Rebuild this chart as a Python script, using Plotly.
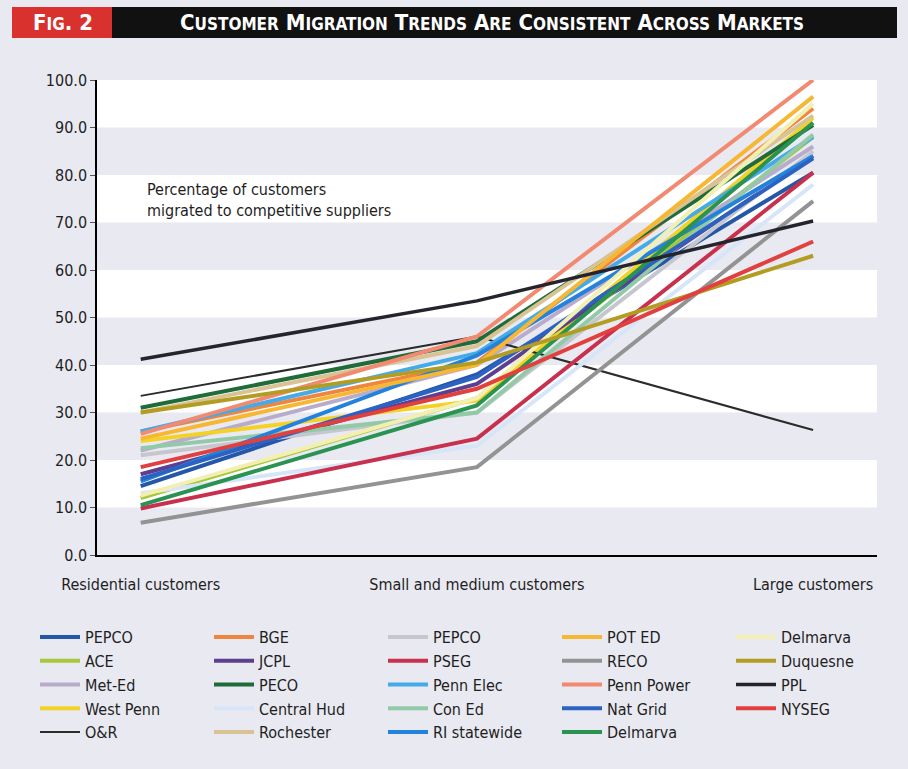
import plotly.graph_objects as go

W, H = 908, 769
categories = ["Residential customers", "Small and medium customers", "Large customers"]

names = ["PEPCO", "ACE", "Met-Ed", "West Penn", "O&R",
         "BGE", "JCPL", "PECO", "Central Hud", "Rochester",
         "PEPCO", "PSEG", "Penn Elec", "Con Ed", "RI statewide",
         "POT ED", "RECO", "Penn Power", "Nat Grid", "Delmarva",
         "Delmarva", "Duquesne", "PPL", "NYSEG"]

values = [
    [14.5, 38.0, 80.5],   # PEPCO
    [12.0, 33.0, 88.0],   # ACE
    [22.0, 40.0, 86.0],   # Met-Ed
    [24.0, 32.5, 92.0],   # West Penn
    [33.5, 46.0, 26.3],   # O&R
    [26.0, 40.5, 94.0],   # BGE
    [17.0, 36.0, 84.0],   # JCPL
    [31.0, 45.0, 90.5],   # PECO
    [13.0, 23.0, 78.0],   # Central Hud
    [30.0, 44.0, 92.5],   # Rochester
    [21.0, 30.0, 85.0],   # PEPCO
    [9.8, 24.5, 80.5],    # PSEG
    [26.0, 42.5, 88.0],   # Penn Elec
    [22.5, 30.0, 88.5],   # Con Ed
    [15.5, 42.0, 84.0],   # RI statewide
    [24.5, 40.0, 96.5],   # POT ED
    [6.8, 18.5, 74.5],    # RECO
    [25.5, 46.0, 100.0],  # Penn Power
    [16.0, 37.5, 83.5],   # Nat Grid
    [10.5, 31.5, 91.0],   # Delmarva
    [12.5, 33.0, 95.0],   # Delmarva
    [30.0, 40.5, 63.0],   # Duquesne
    [41.2, 53.5, 70.3],   # PPL
    [18.5, 35.0, 66.0],   # NYSEG
]

colors = ["#2457a8", "#a8c83c", "#b8abcc", "#f4d225", "#2b2b2b",
          "#f0853e", "#5c3f8e", "#1f6b3a", "#d6e6f8", "#d9c394",
          "#c6c6ce", "#c8304e", "#45aae8", "#92caa8", "#2382dc",
          "#f7b733", "#939393", "#f28a72", "#2c62c2", "#2a9352",
          "#f3efb2", "#b39c22", "#24242e", "#e2403e"]

widths = [4, 4, 4, 4, 2, 4, 4, 4, 4, 4, 4, 4, 4, 4, 4, 4, 4, 4, 4, 4, 4, 4, 3.5, 4]

yticks = [0, 10, 20, 30, 40, 50, 60, 70, 80, 90, 100]

BG = "#e9e9f1"
FONT = "DejaVu Sans Condensed, Liberation Sans Narrow, Arial Narrow, sans-serif"

L, R, T, B = 97, 31, 80, 214
pw, ph = W - L - R, H - T - B


def px_x(x):
    return (x - L) / pw


def px_y(y):
    return (H - B - y) / ph


fig = go.Figure()

# legend arranged column-major in 5 columns of 5 rows -> legendrank row-major
nrows = 5
for i, (n, v, c, w) in enumerate(zip(names, values, colors, widths)):
    col, row = divmod(i, nrows)
    fig.add_trace(go.Scatter(
        x=categories, y=v, mode="lines", name=n,
        line=dict(color=c, width=w),
        legendrank=row * 10 + col + 1,
        hoverinfo="skip"))

shapes = []
# white bands
for lo in yticks[1:-1:2]:
    shapes.append(dict(type="rect", xref="paper", yref="y", x0=0, x1=1,
                       y0=lo, y1=lo + 10, fillcolor="white", line_width=0,
                       layer="below"))
# title bar
shapes.append(dict(type="rect", xref="paper", yref="paper",
                   x0=px_x(112), x1=px_x(897), y0=px_y(38), y1=px_y(7),
                   fillcolor="#111111", line_width=0))
shapes.append(dict(type="rect", xref="paper", yref="paper",
                   x0=px_x(12), x1=px_x(112), y0=px_y(38), y1=px_y(7),
                   fillcolor="#d9322e", line_width=0))


def smallcaps(text, small=17):
    out = []
    for word in text.split(" "):
        out.append(word[0] + "<span style='font-size:%dpx'>%s</span>" % (small, word[1:].upper()))
    return " ".join(out)


annotations = [
    dict(xref="paper", yref="paper", x=px_x(63), y=px_y(23),
         text="F<span style='font-size:17px'>IG</span>. 2", showarrow=False,
         font=dict(family=FONT, size=22, color="white", weight="bold"),
         xanchor="center", yanchor="middle"),
    dict(xref="paper", yref="paper", x=px_x(492), y=px_y(23),
         text=smallcaps("Customer Migration Trends Are Consistent Across Markets"),
         showarrow=False,
         font=dict(family=FONT, size=22, color="white", weight="bold"),
         xanchor="center", yanchor="middle"),
    dict(xref="paper", yref="paper", x=px_x(145), y=px_y(200),
         text="Percentage of customers<br>migrated to competitive suppliers",
         showarrow=False, align="left",
         font=dict(family=FONT, size=16, color="#1e1e1e"),
         xanchor="left", yanchor="middle"),
]

fig.update_layout(
    width=W, height=H,
    paper_bgcolor=BG, plot_bgcolor=BG,
    margin=dict(l=L, r=R, t=T, b=B, autoexpand=False),
    font=dict(family=FONT, size=16, color="#1e1e1e"),
    showlegend=True,
    legend=dict(orientation="h", xref="paper", yref="paper",
                x=px_x(35), y=px_y(620), xanchor="left", yanchor="top",
                entrywidth=119, entrywidthmode="pixels",
                bgcolor="rgba(0,0,0,0)", font=dict(size=16),
                itemwidth=40, tracegroupgap=0),
    shapes=shapes,
    annotations=annotations,
    xaxis=dict(type="category", range=[-0.13, 2.19], showgrid=False,
               showline=True, linecolor="black", linewidth=1.5,
               ticks="", ticklabelstandoff=14, zeroline=False,
               tickfont=dict(size=16)),
    yaxis=dict(range=[0, 100], tickvals=yticks,
               ticktext=["%.1f" % t for t in yticks],
               showgrid=False, showline=True, linecolor="black", linewidth=1.5,
               ticks="outside", ticklen=5, tickcolor="#555", zeroline=False,
               tickfont=dict(size=16)),
)

fig.write_html("out.html")
